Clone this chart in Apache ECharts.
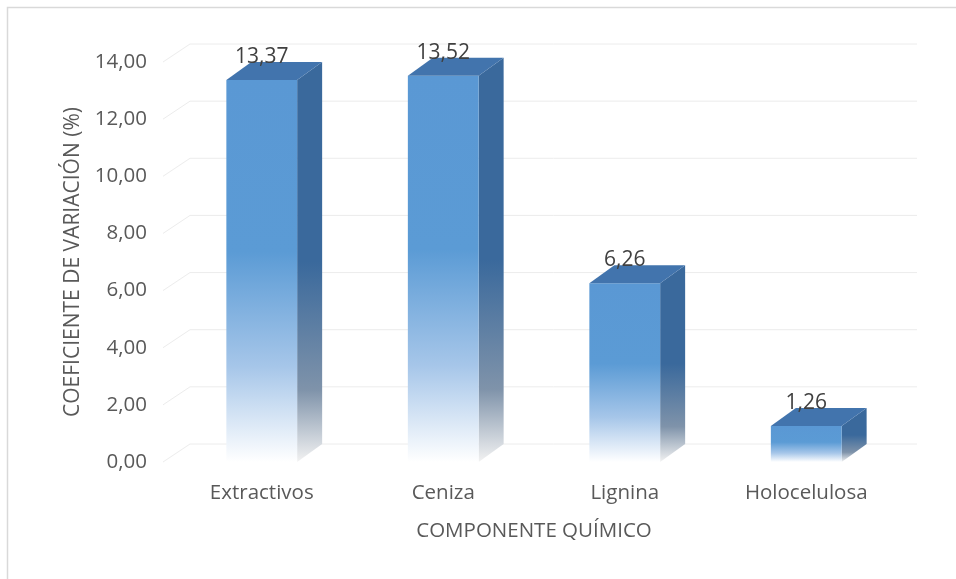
<!DOCTYPE html>
<html>
<head>
<meta charset="utf-8">
<script src="https://cdn.jsdelivr.net/npm/echarts@6/dist/echarts.min.js"></script>
<style>
  html, body { margin: 0; padding: 0; background: #ffffff; }
  #chart { width: 956px; height: 579px; }
</style>
</head>
<body>
<div id="chart"></div>
<script>
// Coefficient of variation per chemical component
const categories = ['Extractivos', 'Ceniza', 'Lignina', 'Holocelulosa'];
const coefVariacion = [13.37, 13.52, 6.26, 1.26];
const yTicks = [0, 2, 4, 6, 8, 10, 12, 14];

const FONT = 'Open Sans';
const DEPTH_X = 25;   // 3D depth offset of the bars and back wall
const DEPTH_Y = -18;

const fmt = v => v.toFixed(2).replace('.', ',');

const chart = echarts.init(document.getElementById('chart'));

function renderGridLine(params, api) {
  const cs = params.coordSys;
  const y = api.coord([0, api.value(0)])[1];
  const xl = cs.x - 8;
  const xb = cs.x + 19;
  const xr = cs.x + cs.width + 20;
  return {
    type: 'polyline',
    shape: { points: [[xl, y], [xb, y + DEPTH_Y], [xr, y + DEPTH_Y]] },
    style: { stroke: '#ececec', lineWidth: 1, fill: null }
  };
}

function renderBar(params, api) {
  const idx = api.value(0);
  const val = api.value(1);
  const top = api.coord([idx, val]);
  const base = api.coord([idx, 0]);
  const w = api.size([1, 0])[0] * 0.39;
  const x0 = top[0] - w / 2;
  const x1 = top[0] + w / 2;
  const yT = top[1];
  const yB = base[1];

  const frontFill = new echarts.graphic.LinearGradient(0, 0, 0, 1, [
    { offset: 0, color: '#5a98d4' },
    { offset: 0.45, color: '#5b9bd5' },
    { offset: 0.75, color: '#a6c6e9' },
    { offset: 1, color: '#ffffff' }
  ]);
  const sideFill = new echarts.graphic.LinearGradient(0, 0, 0, 1, [
    { offset: 0, color: '#3a699c' },
    { offset: 0.5, color: '#3a699c' },
    { offset: 0.82, color: '#7f93aa' },
    { offset: 1, color: '#f2f2f2' }
  ]);

  return {
    type: 'group',
    children: [
      {
        type: 'polygon',
        shape: { points: [[x1, yT], [x1 + DEPTH_X, yT + DEPTH_Y], [x1 + DEPTH_X, yB + DEPTH_Y], [x1, yB]] },
        style: { fill: sideFill }
      },
      {
        type: 'rect',
        shape: { x: x0, y: yT, width: w, height: yB - yT },
        style: { fill: frontFill }
      },
      {
        type: 'polygon',
        shape: { points: [[x0, yT], [x0 + DEPTH_X, yT + DEPTH_Y], [x1 + DEPTH_X, yT + DEPTH_Y], [x1, yT]] },
        style: { fill: '#4274ad' }
      },
      {
        type: 'text',
        style: {
          x: top[0], y: yT - 23,
          text: fmt(val),
          align: 'center', verticalAlign: 'middle',
          fill: '#404040', font: '21px "' + FONT + '"'
        }
      }
    ]
  };
}

chart.setOption({
  animation: false,
  backgroundColor: '#ffffff',
  grid: { left: 171, right: 59, top: 62, bottom: 117 },
  xAxis: {
    type: 'category',
    data: categories,
    name: 'COMPONENTE QUÍMICO',
    nameLocation: 'middle',
    nameGap: 57,
    nameTextStyle: { color: '#595959', fontFamily: FONT, fontSize: 20.5, lineHeight: 24 },
    axisLine: { show: false },
    axisTick: { show: false },
    axisLabel: { color: '#595959', fontFamily: FONT, fontSize: 20.5, margin: 19, lineHeight: 24 },
    splitLine: { show: false }
  },
  yAxis: {
    type: 'value',
    min: 0, max: 14, interval: 2,
    name: 'COEFICIENTE DE VARIACIÓN (%)',
    nameLocation: 'middle',
    nameGap: 86,
    nameTextStyle: { color: '#595959', fontFamily: FONT, fontSize: 21 },
    axisLine: { show: false },
    axisTick: { show: false },
    axisLabel: { color: '#595959', fontFamily: FONT, fontSize: 20.5, margin: 24, formatter: v => fmt(v) },
    splitLine: { show: false }
  },
  graphic: [
    {
      type: 'polyline',
      shape: { points: [[7.5, 600], [7.5, 7.5], [960, 7.5]] },
      style: { stroke: '#d9d9d9', lineWidth: 1.5, fill: null },
      silent: true
    }
  ],
  series: [
    {
      type: 'custom',
      z: 1,
      clip: false,
      silent: true,
      data: yTicks.map(v => [v]),
      encode: { y: 0 },
      renderItem: renderGridLine
    },
    {
      type: 'custom',
      z: 2,
      clip: false,
      data: coefVariacion.map((v, i) => [i, v]),
      encode: { x: 0, y: 1 },
      renderItem: renderBar
    }
  ]
});
</script>
</body>
</html>
